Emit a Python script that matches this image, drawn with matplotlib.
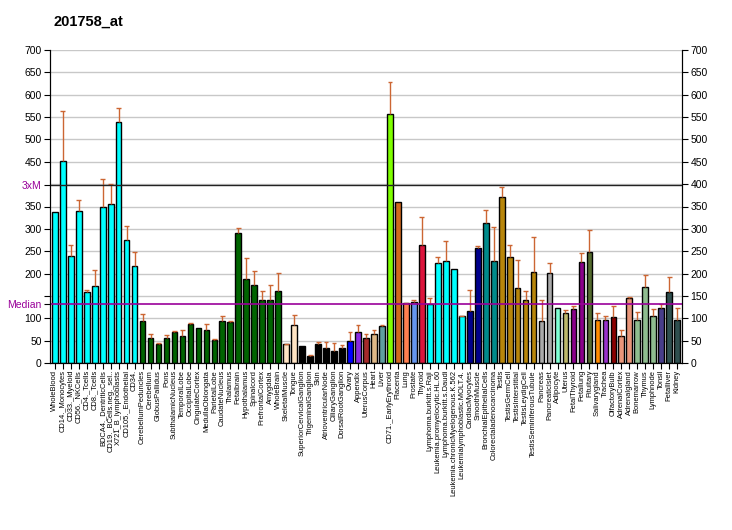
import matplotlib
matplotlib.use("Agg")
import matplotlib.pyplot as plt

plt.rcParams["font.family"] = ["Liberation Sans", "DejaVu Sans"]

title = "201758_at"
labels = ["WholeBlood", "CD14._Monocytes", "CD33._Myeloid", "CD56._NKCells", "CD4._Tcells", "CD8._Tcells",
          "BDCA4._DentriticCells", "CD19._BCells.neg._sel..", "X721_B_lymphoblasts", "CD105._Endothelial", "CD34.",
          "CerebellumPeduncles", "Cerebellum", "GlobusPallidus", "Pons", "SubthalamicNucleus", "TemporalLobe",
          "OccipitalLobe", "CingulateCortex", "MedullaOblongata", "ParietalLobe", "CaudateNucleus", "Thalamus",
          "Fetalbrain", "Hypothalamus", "Spinalcord", "PrefrontalCortex", "Amygdala", "WholeBrain",
          "SkeletalMuscle", "Tongue", "SuperiorCervicalGanglion", "TrigeminalGanglion", "Skin",
          "AtrioventricularNode", "CiliaryGanglion", "DorsalRootGanglion", "Ovary", "Appendix", "UterusCorpus",
          "Heart", "Liver", "CD71._EarlyErythroid", "Placenta", "Lung", "Prostate", "Thyroid",
          "Lymphoma.burkitt.s.Raji", "Leukemia.promyelocytic.HL.60", "Lymphoma.burkitt.s.Daudi",
          "Leukemia.chronicMyelogenous.K.562", "Leukemialymphoblastic.MOLT.4.", "CardiacMyocytes", "SmoothMuscle",
          "BronchialEpithelialCells", "Colorectaladenocarcinoma", "Testis", "TestisGermCell", "TestisInterstitial",
          "TestisLeydigCell", "TestisSeminiferousTubule", "Pancreas", "PancreaticIslet", "Adipocyte", "Uterus",
          "FetalThyroid", "Fetallung", "Pituitary", "Salivarygland", "Trachea", "OlfactoryBulb", "AdrenalCortex",
          "Adrenalgland", "Bonemarrow", "Thymus", "Lymphnode", "Tonsil", "Fetalliver", "Kidney"]

values = [337, 451, 239, 339, 158, 172, 350, 355, 538, 274, 216,
          93, 57, 42, 55, 69, 60, 87, 78, 73, 51, 93, 91, 290, 187, 174, 140, 142, 160,
          42, 84, 37, 16, 42, 33, 26, 33, 49, 69, 55, 64, 82,
          556, 359, 134, 136, 263, 131, 223, 227, 210, 104, 116, 257, 312, 227,
          371, 236, 167, 140, 203, 95, 201, 122, 111, 120, 225, 248, 97, 97, 102,
          61, 145, 97, 169, 104, 122, 158, 97]

err_top = [337, 563, 265, 364, 163, 207, 411, 400, 570, 306, 248,
           109, 64, 44, 62, 71, 73, 89, 78, 87, 53, 104, 95, 303, 234, 205, 160, 174, 201,
           43, 107, 37, 17, 46, 46, 44, 40, 69, 84, 64, 73, 84,
           628, 359, 135, 142, 326, 145, 236, 272, 210, 105, 163, 261, 342, 304,
           393, 265, 230, 160, 281, 140, 223, 122, 118, 127, 246, 297, 111, 106, 127,
           73, 147, 115, 196, 120, 133, 192, 122]

colors = (["#00FFFF"] * 11 + ["#006400"] * 18 + ["#FFE4C4"] * 2 + ["#000000"] * 6 +
          ["#0000FF", "#8A2BE2", "#A52A2A", "#DEB887", "#5F9EA0", "#7FFF00", "#D2691E", "#FF7F50",
           "#6495ED", "#DC143C"] + ["#00FFFF"] * 5 + ["#00008B"] * 2 + ["#008B8B"] * 2 +
          ["#B8860B"] * 5 + ["#A9A9A9"] * 2 + ["#7FFFD4", "#BDB76B", "#8B008B", "#8B008B", "#556B2F",
           "#FF8C00", "#9932CC", "#8B0000", "#E9967A", "#E9967A", "#8FBC8F", "#8FBC8F", "#8FBC8F",
           "#483D8B", "#2F4F4F", "#2F4F4F"])

median = 131
three_x_median = 399
yticks = list(range(0, 701, 50))

fig = plt.figure(figsize=(7.32, 5.30), dpi=100)
ax = fig.add_axes([50 / 732, 167 / 530, 632 / 732, 313 / 530])
x = list(range(len(values)))
ax.set_xlim(-0.6, len(values) - 0.4)
ax.set_ylim(0, 700)
for t in yticks:
    ax.axhline(t, color="#C8C8C8", lw=1, zorder=0)
ax.bar(x, values, width=0.72, color=colors, edgecolor="black", linewidth=1, zorder=2)
for xi, v, e in zip(x, values, err_top):
    if e > v:
        ax.vlines(xi, v, e, color="#CC6633", lw=1, zorder=3)
        ax.hlines(e, xi - 0.3, xi + 0.3, color="#CC6633", lw=1, zorder=3)
ax.axhline(median, color="#990099", lw=1.2, zorder=4)
ax.axhline(three_x_median, color="#222222", lw=1, zorder=4)

lt = [t for t in yticks if t != 400] + [three_x_median, median]
ll = ["" if t == 150 else str(t) for t in yticks if t != 400] + ["3xM", "Median"]
ax.set_yticks(lt)
ax.set_yticklabels(ll, fontsize=7.5)
for lab in ax.get_yticklabels():
    if lab.get_text() in ("3xM", "Median"):
        lab.set_color("#990099")
ax.set_xticks(x)
ax.set_xticklabels(labels, rotation=90, fontsize=5.4)
ax.tick_params(axis="x", length=4, pad=1)
ax.tick_params(axis="y", length=4, pad=2)
ax.spines["top"].set_visible(False)

ax2 = ax.twinx()
ax2.set_ylim(0, 700)
ax2.set_yticks(yticks)
ax2.set_yticklabels([str(t) for t in yticks], fontsize=7.5)
ax2.tick_params(axis="y", length=4, pad=2)
ax2.spines["top"].set_visible(False)

fig.text(53 / 732, 1 - 22 / 530, title, fontsize=10.5, fontweight="bold", va="center")
fig.savefig("out.png", dpi=100)
